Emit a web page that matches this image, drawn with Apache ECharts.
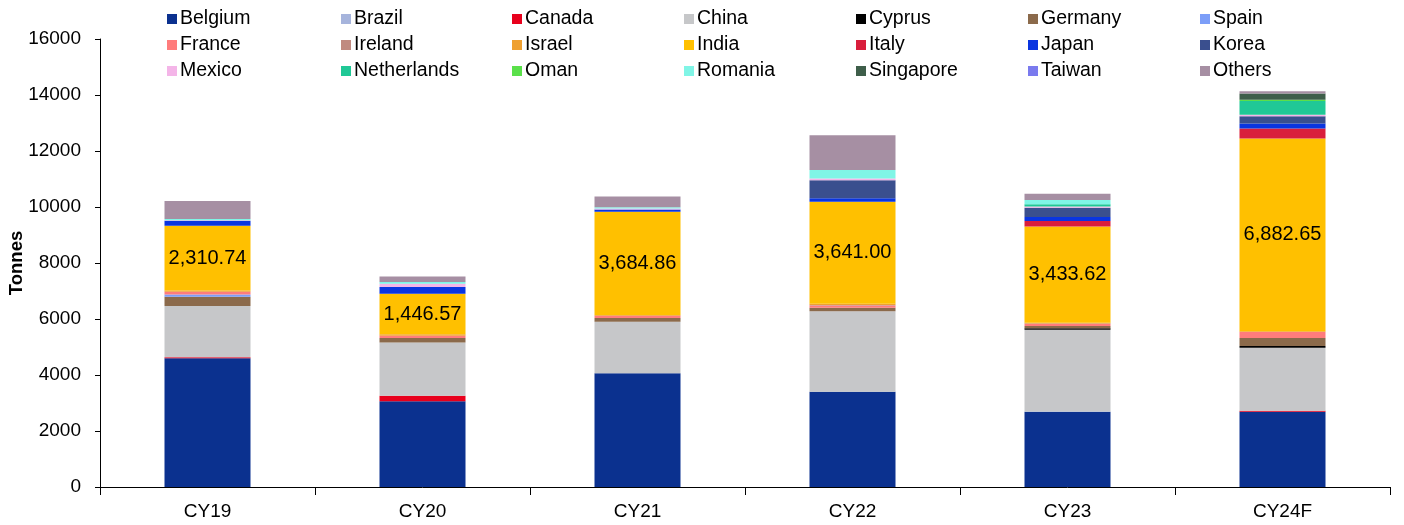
<!DOCTYPE html>
<html>
<head>
<meta charset="utf-8">
<script src="https://cdn.jsdelivr.net/npm/echarts@6/dist/echarts.min.js"></script>
<style>
  html, body { margin: 0; padding: 0; background: #fff; }
  #chart { width: 1404px; height: 525px; }
</style>
</head>
<body>
<div id="chart"></div>
<script>
// Exports by destination country, tonnes per calendar year
const categories = ['CY19', 'CY20', 'CY21', 'CY22', 'CY23', 'CY24F'];

const belgium     = [4600, 3060, 4060, 3400, 2690, 2690];
const brazil      = [0, 0, 0, 0, 10, 0];
const canada      = [30, 200, 0, 0, 0, 30];
const china       = [1833, 1905, 1845, 2880, 2917, 2250];
const cyprus      = [0, 0, 0, 0, 55, 70];
const germany     = [333, 155, 130, 120, 80, 285];
const spain       = [80, 0, 0, 0, 0, 0];
const france      = [100, 85, 80, 80, 70, 215];
const ireland     = [0, 0, 0, 20, 20, 0];
const israel      = [40, 50, 30, 45, 25, 20];
const india       = [2310.74, 1446.57, 3684.86, 3641.00, 3433.62, 6882.65];
const italy       = [0, 0, 0, 0, 200, 357];
const japan       = [180, 240, 85, 130, 143, 180];
const korea       = [0, 0, 0, 643, 333, 260];
const mexico      = [20, 120, 30, 60, 40, 55];
const netherlands = [0, 0, 0, 0, 80, 490];
const oman        = [0, 0, 0, 0, 0, 50];
const romania     = [45, 60, 50, 300, 150, 0];
const singapore   = [0, 0, 0, 0, 0, 215];
const taiwan      = [0, 0, 0, 0, 0, 0];
const others      = [640, 200, 380, 1240, 230, 85];

const yTicks = [0, 2000, 4000, 6000, 8000, 10000, 12000, 14000, 16000];

// Stacking order bottom to top, with fill colours
const countries = [
  ['Belgium', belgium, '#0b318f'],
  ['Brazil', brazil, '#a6b4dc'],
  ['Canada', canada, '#e8001c'],
  ['China', china, '#c6c7c9'],
  ['Cyprus', cyprus, '#000000'],
  ['Germany', germany, '#8b6a4b'],
  ['Spain', spain, '#7c9ef8'],
  ['France', france, '#ff7c7c'],
  ['Ireland', ireland, '#c08a80'],
  ['Israel', israel, '#efa030'],
  ['India', india, '#ffc000'],
  ['Italy', italy, '#d91e3c'],
  ['Japan', japan, '#0a35e0'],
  ['Korea', korea, '#3a4f8e'],
  ['Mexico', mexico, '#f4b5e8'],
  ['Netherlands', netherlands, '#20c896'],
  ['Oman', oman, '#5ae04a'],
  ['Romania', romania, '#80f5e6'],
  ['Singapore', singapore, '#3e5e4a'],
  ['Taiwan', taiwan, '#7a7aee'],
  ['Others', others, '#a68fa3']
];

const FONT = '"Liberation Sans", Arial, sans-serif';

const series = countries.map(([name, values, color]) => {
  const s = {
    name: name,
    type: 'bar',
    stack: 'total',
    barWidth: '40%',
    data: values,
    itemStyle: { color: color },
    emphasis: { disabled: true },
    animation: false
  };
  if (name === 'India') {
    s.label = {
      show: true,
      position: 'inside',
      color: '#000',
      fontFamily: FONT,
      fontSize: 20,
      formatter: p => p.value.toLocaleString('en-US', { minimumFractionDigits: 2, maximumFractionDigits: 2 })
    };
  }
  return s;
});

// Legend laid out as a 7 x 3 grid, one component per entry
const colX = [167, 341, 512, 684, 856, 1028, 1200];
const rowY = [17, 43, 69];
const legends = countries.map(([name], i) => ({
  data: [name],
  left: colX[i % 7],
  top: rowY[Math.floor(i / 7)] - 8,
  padding: 0,
  itemWidth: 10,
  itemHeight: 10,
  icon: 'rect',
  selectedMode: false,
  textStyle: { fontFamily: FONT, fontSize: 19.5, color: '#000', padding: [0, 0, 0, -2] }
}));

const chart = echarts.init(document.getElementById('chart'));
chart.setOption({
  animation: false,
  legend: legends,
  grid: { left: 100, right: 14, top: 39, bottom: 38, containLabel: false, outerBoundsMode: 'none' },
  xAxis: {
    type: 'category',
    data: categories,
    axisLine: { lineStyle: { color: '#000', width: 1 } },
    axisTick: { show: true, length: 8, lineStyle: { color: '#000' } },
    axisLabel: { color: '#000', fontFamily: FONT, fontSize: 19, margin: 15 }
  },
  yAxis: {
    type: 'value',
    min: yTicks[0],
    max: yTicks[yTicks.length - 1],
    interval: 2000,
    name: 'Tonnes',
    nameLocation: 'middle',
    nameRotate: 90,
    nameGap: 74,
    nameMoveOverlap: false,
    nameTextStyle: { color: '#000', fontFamily: FONT, fontSize: 18.5, fontWeight: 'bold' },
    axisLine: { show: true, lineStyle: { color: '#000', width: 1 } },
    axisTick: { show: true, length: 5, lineStyle: { color: '#000' } },
    splitLine: { show: false },
    axisLabel: { color: '#000', fontFamily: FONT, fontSize: 19, margin: 19, formatter: v => String(v) }
  },
  series: series
});
</script>
</body>
</html>
